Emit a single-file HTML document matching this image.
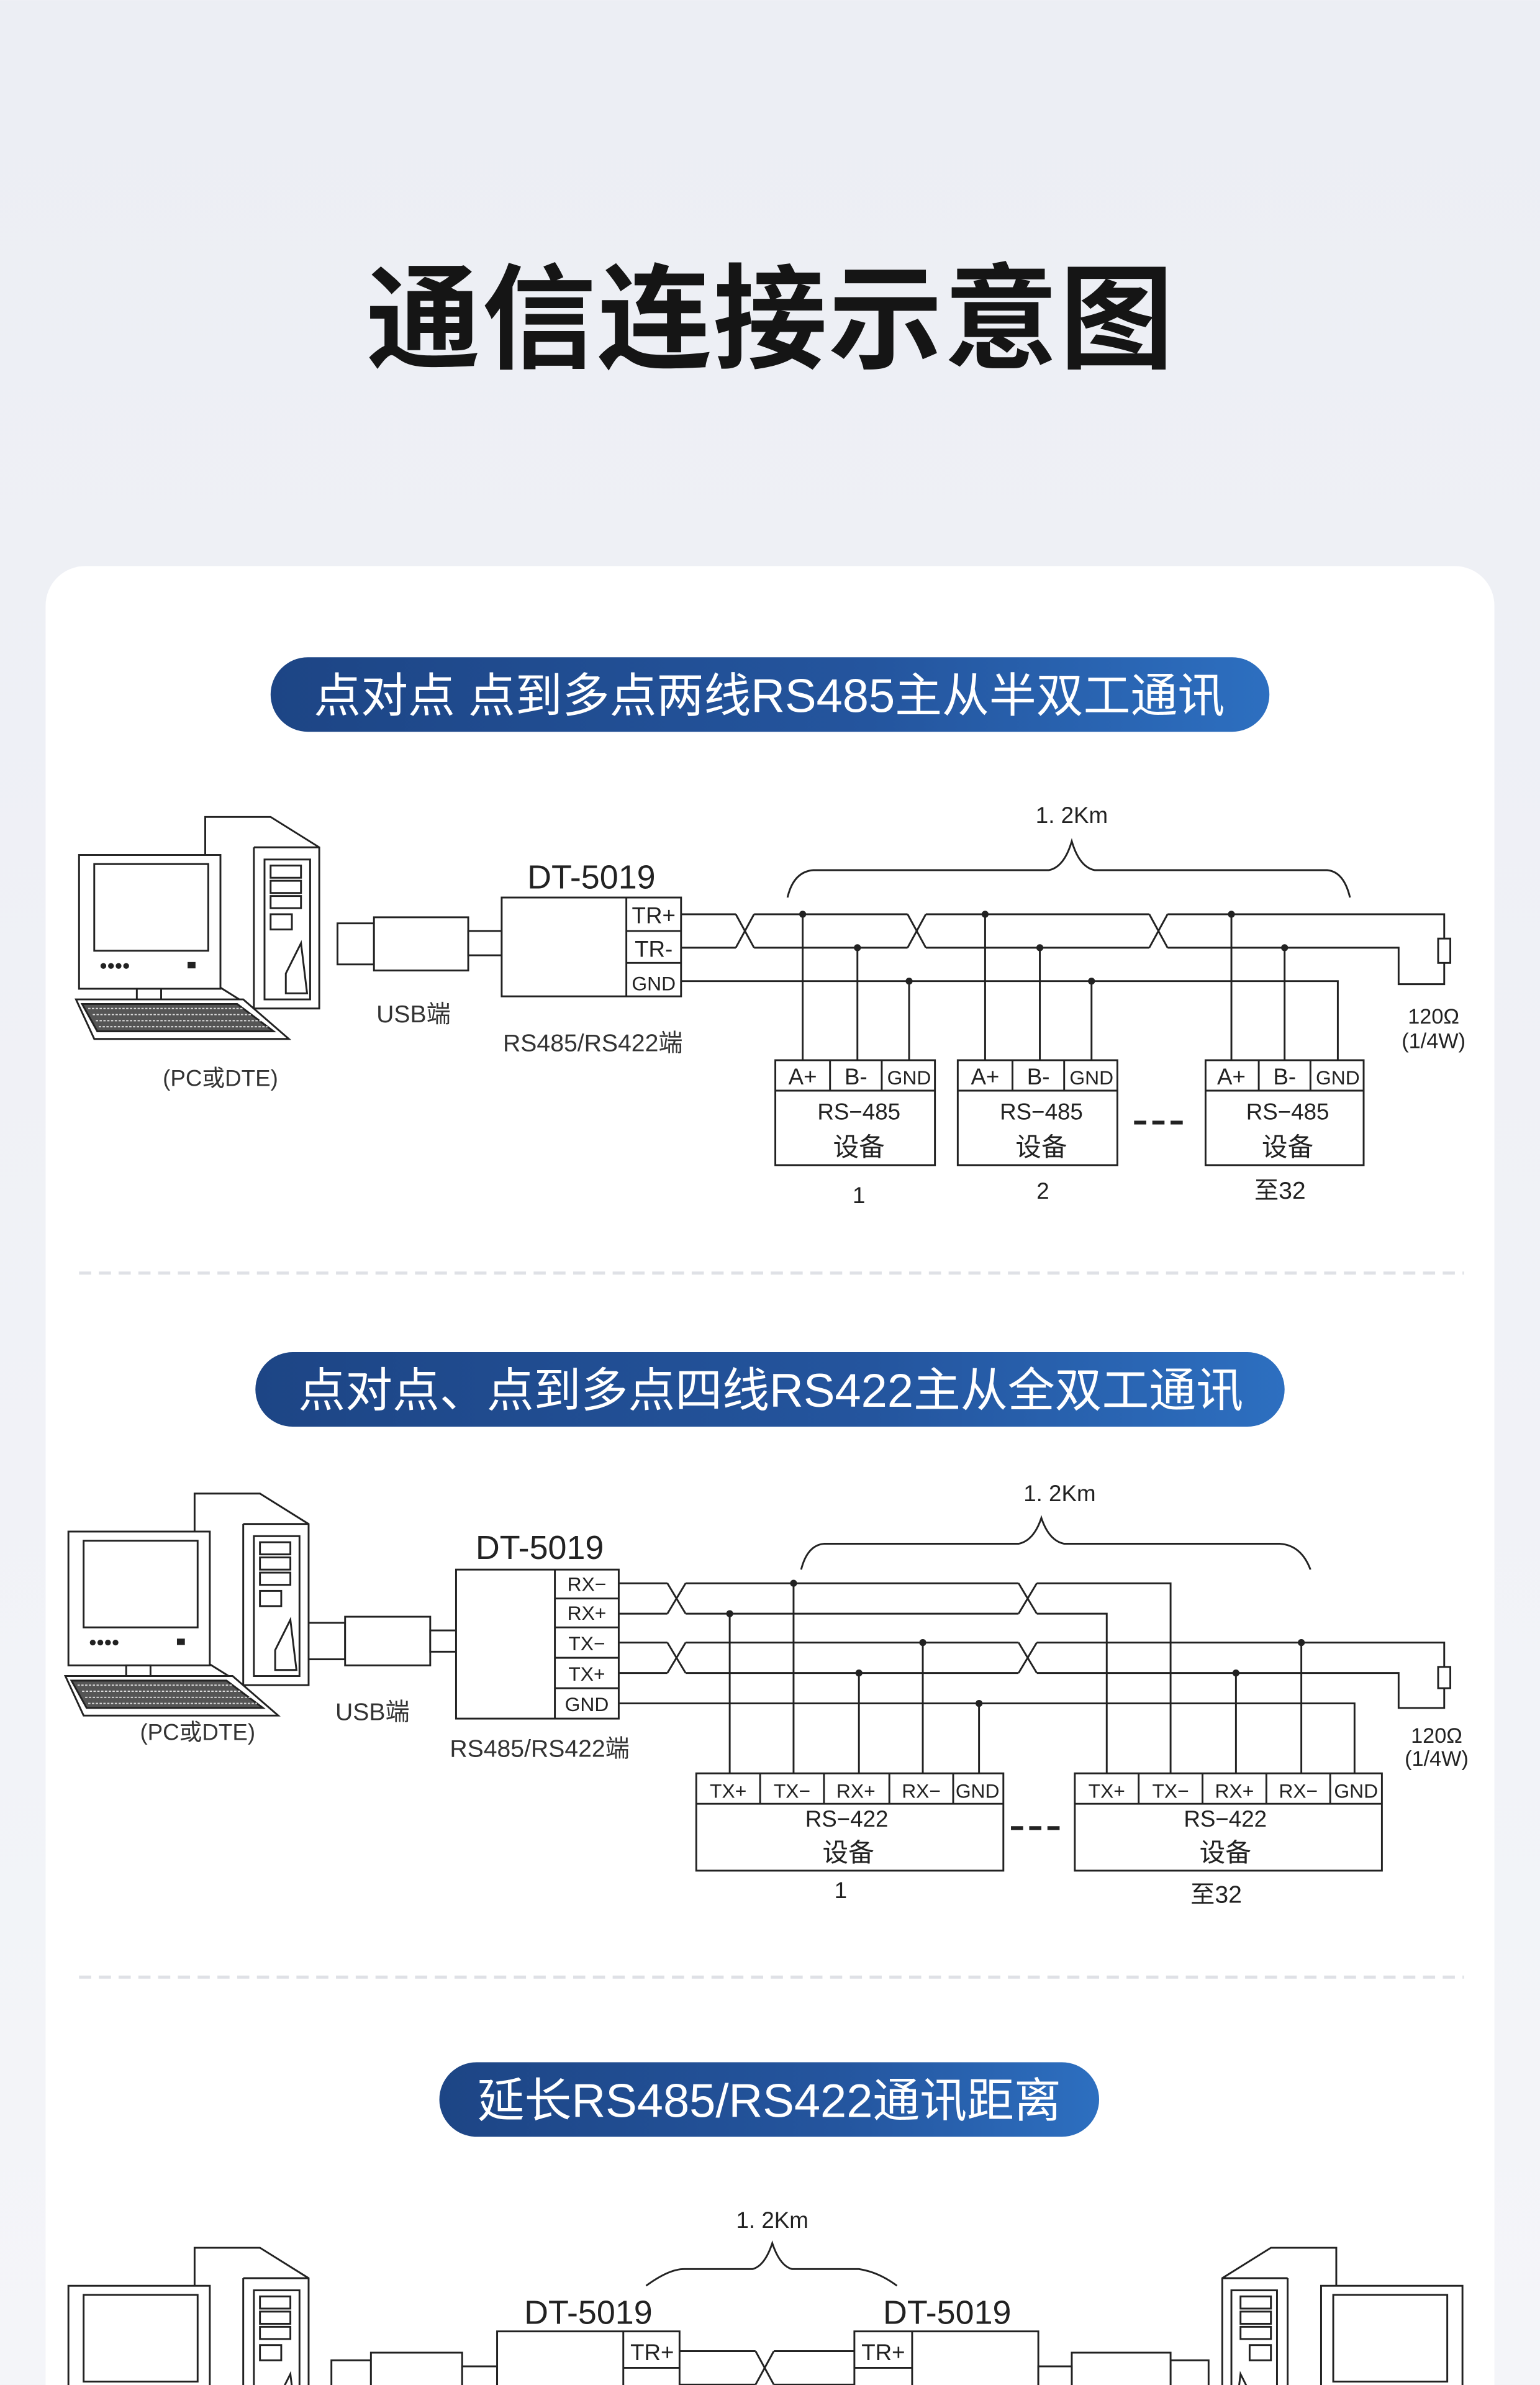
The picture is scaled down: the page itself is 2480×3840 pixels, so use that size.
<!DOCTYPE html>
<html><head><meta charset="utf-8"><style>
html,body{margin:0;padding:0;background:#f1f2f7;}
svg{display:block;}
text{font-family:"Liberation Sans","Noto Sans CJK SC",sans-serif;}
</style></head><body>
<svg width="2480" height="3840" viewBox="0 0 1013 1568" xmlns="http://www.w3.org/2000/svg">
<defs>
<linearGradient id="bg" x1="0" y1="0" x2="0" y2="1"><stop offset="0" stop-color="#eceef4"/><stop offset="1" stop-color="#f4f5f9"/></linearGradient>
<linearGradient id="pill" x1="0" y1="0" x2="1" y2="0"><stop offset="0" stop-color="#1d4585"/><stop offset="0.6" stop-color="#24559e"/><stop offset="1" stop-color="#2d6fc0"/></linearGradient>
<g id="pc" fill="#fff" stroke="#222" stroke-width="1.2">
<polygon points="87,2 130,2 162,22 162,128 119,128 87,108"/>
<line x1="119" y1="22" x2="119" y2="128"/><line x1="119" y1="22" x2="162" y2="22"/>
<rect x="126" y="30" width="30" height="92"/>
<rect x="130" y="34" width="20" height="8"/><rect x="130" y="44" width="20" height="8"/><rect x="130" y="54" width="20" height="8"/><rect x="130" y="66" width="14" height="10"/>
<path d="M150 85 L140 105 L140 118 L154 118 Z"/>
<rect x="4" y="27" width="93" height="88"/>
<rect x="14" y="33" width="75" height="57"/>
<circle cx="20" cy="100" r="1.3" fill="#222"/><circle cx="25" cy="100" r="1.3" fill="#222"/><circle cx="30" cy="100" r="1.3" fill="#222"/><circle cx="35" cy="100" r="1.3" fill="#222"/><rect x="76" y="98" width="4" height="3" fill="#222"/>
<rect x="42" y="115" width="16" height="10"/>
<polygon points="25,125 80,125 90,135 35,135"/>
<polygon points="2,122 112,122 142,148 14,148" fill="#fff"/>
<polygon points="6,125 108,125 132,143 16,143" fill="#555"/>
<path d="M10 128 L112 128 M13 132 L118 132 M15 136 L124 136 M17 140 L128 140" stroke="#ddd" stroke-width="0.8" stroke-dasharray="1.5 1"/>
</g>
</defs>
<rect width="1013" height="1568" fill="url(#bg)"/>
<text x="507" y="236" text-anchor="middle" font-size="75" font-weight="bold" fill="#151515" letter-spacing="1">通信连接示意图</text>
<rect x="30" y="372" width="953" height="1230" rx="26" fill="#fff"/>

<rect x="178" y="432" width="657" height="49" rx="24.5" fill="url(#pill)"/>
<text x="506" y="468" text-anchor="middle" font-size="31" fill="#fff">点对点 点到多点两线RS485主从半双工通讯</text>
<rect x="168" y="889" width="677" height="49" rx="24.5" fill="url(#pill)"/>
<text x="507" y="925" text-anchor="middle" font-size="31" fill="#fff">点对点、点到多点四线RS422主从全双工通讯</text>
<rect x="289" y="1356" width="434" height="49" rx="24.5" fill="url(#pill)"/>
<text x="506" y="1392" text-anchor="middle" font-size="31" fill="#fff">延长RS485/RS422通讯距离</text>

<line x1="52" y1="837" x2="963" y2="837" stroke="#dfe1e6" stroke-width="2" stroke-dasharray="8 5"/>
<line x1="52" y1="1300" x2="963" y2="1300" stroke="#dfe1e6" stroke-width="2" stroke-dasharray="8 5"/>

<g stroke="#222" stroke-width="1.2" fill="none">
<use href="#pc" x="48" y="535"/>
<rect x="222" y="607" width="24" height="27" fill="#fff"/>
<rect x="246" y="603" width="62" height="35" fill="#fff"/>
<rect x="308" y="612" width="22" height="16" fill="#fff"/>
<rect x="330" y="590" width="118" height="65" fill="#fff"/>
<line x1="412" y1="590" x2="412" y2="655"/><line x1="412" y1="612" x2="448" y2="612"/><line x1="412" y1="633" x2="448" y2="633"/>
<path d="M448 601 H950 V617 M950 633 V647 H920 V623 H448 M448 645 H880 V697"/>
<rect x="946" y="617" width="8" height="16" fill="#fff"/>
<path d="M528 601 V697 M564 623 V697 M598 645 V697 M648 601 V697 M684 623 V697 M718 645 V697 M810 601 V697 M845 623 V697"/>
<path d="M518 590 Q522 573 535 572 H690 Q700 570 705 553 Q710 570 720 572 H873 Q884 573 888 590"/>
<rect x="510" y="697" width="105" height="69" fill="#fff"/><line x1="510" y1="717" x2="615" y2="717"/><line x1="546" y1="697" x2="546" y2="717"/><line x1="580" y1="697" x2="580" y2="717"/>
<rect x="630" y="697" width="105" height="69" fill="#fff"/><line x1="630" y1="717" x2="735" y2="717"/><line x1="666" y1="697" x2="666" y2="717"/><line x1="700" y1="697" x2="700" y2="717"/>
<rect x="793" y="697" width="104" height="69" fill="#fff"/><line x1="793" y1="717" x2="897" y2="717"/><line x1="828" y1="697" x2="828" y2="717"/><line x1="862" y1="697" x2="862" y2="717"/>
<path d="M746 738 H782" stroke-width="2.5" stroke-dasharray="8 4"/>

<use href="#pc" x="41" y="980"/>
<rect x="203" y="1067" width="24" height="24" fill="#fff"/>
<rect x="227" y="1063" width="56" height="32" fill="#fff"/>
<rect x="283" y="1072" width="17" height="14" fill="#fff"/>
<rect x="300" y="1032" width="107" height="98" fill="#fff"/>
<line x1="365" y1="1032" x2="365" y2="1130"/>
<path d="M365 1051 H407 M365 1070 H407 M365 1090 H407 M365 1110 H407"/>
<path d="M407 1041 H770 V1166 M407 1061 H728 V1166 M407 1080 H950 V1096 M950 1110 V1123 H920 V1100 H407 M407 1120 H891 V1166"/>
<rect x="946" y="1096" width="8" height="14" fill="#fff"/>
<path d="M480 1061 V1166 M522 1041 V1166 M565 1100 V1166 M607 1080 V1166 M644 1120 V1166 M813 1100 V1166 M856 1080 V1166"/>
<path d="M527 1032 Q531 1016 542 1015 H670 Q680 1013 685 998 Q690 1013 700 1015 H842 Q856 1016 862 1032"/>
<rect x="458" y="1166" width="202" height="64" fill="#fff"/><line x1="458" y1="1186" x2="660" y2="1186"/>
<path d="M500 1166 V1186 M542 1166 V1186 M585 1166 V1186 M627 1166 V1186"/>
<rect x="707" y="1166" width="202" height="64" fill="#fff"/><line x1="707" y1="1186" x2="909" y2="1186"/>
<path d="M749 1166 V1186 M791 1166 V1186 M833 1166 V1186 M875 1166 V1186"/>
<path d="M665 1202 H700" stroke-width="2.5" stroke-dasharray="8 4"/>

<use href="#pc" x="41" y="1476"/>
<g transform="translate(1013,0) scale(-1,1)"><use href="#pc" x="47" y="1476"/></g>
<rect x="218" y="1552" width="26" height="24" fill="#fff"/>
<rect x="244" y="1547" width="60" height="30" fill="#fff"/>
<rect x="304" y="1556" width="23" height="14" fill="#fff"/>
<rect x="327" y="1533" width="120" height="50" fill="#fff"/>
<line x1="410" y1="1533" x2="410" y2="1583"/><line x1="410" y1="1557" x2="447" y2="1557"/>
<rect x="562" y="1533" width="121" height="50" fill="#fff"/>
<line x1="600" y1="1533" x2="600" y2="1583"/><line x1="562" y1="1557" x2="600" y2="1557"/>
<rect x="770" y="1552" width="25" height="24" fill="#fff"/>
<rect x="705" y="1547" width="65" height="30" fill="#fff"/>
<rect x="683" y="1556" width="22" height="14" fill="#fff"/>
<path d="M447 1546 H562 M447 1568 H562"/>
<path d="M425 1503 Q440 1492 450 1492 H495 Q503 1490 508 1475 Q513 1490 521 1492 H565 Q578 1494 590 1503"/>
</g>

<g stroke="#222" stroke-width="1.2" fill="#fff">
<g><rect x="484" y="598" width="12" height="28" stroke="none"/><path d="M484 601 L496 623 M484 623 L496 601" fill="none"/></g>
<g><rect x="597" y="598" width="12" height="28" stroke="none"/><path d="M597 601 L609 623 M597 623 L609 601" fill="none"/></g>
<g><rect x="756" y="598" width="12" height="28" stroke="none"/><path d="M756 601 L768 623 M756 623 L768 601" fill="none"/></g>
<g><rect x="439" y="1038" width="12" height="26" stroke="none"/><path d="M439 1041 L451 1061 M439 1061 L451 1041" fill="none"/></g>
<g><rect x="670" y="1038" width="12" height="26" stroke="none"/><path d="M670 1041 L682 1061 M670 1061 L682 1041" fill="none"/></g>
<g><rect x="439" y="1077" width="12" height="26" stroke="none"/><path d="M439 1080 L451 1100 M439 1100 L451 1080" fill="none"/></g>
<g><rect x="670" y="1077" width="12" height="26" stroke="none"/><path d="M670 1080 L682 1100 M670 1100 L682 1080" fill="none"/></g>
<g><rect x="497" y="1543" width="12" height="28" stroke="none"/><path d="M497 1546 L509 1568 M497 1568 L509 1546" fill="none"/></g>
</g>

<g fill="#222">
<circle cx="528" cy="601" r="2.3"/><circle cx="564" cy="623" r="2.3"/><circle cx="598" cy="645" r="2.3"/>
<circle cx="648" cy="601" r="2.3"/><circle cx="684" cy="623" r="2.3"/><circle cx="718" cy="645" r="2.3"/>
<circle cx="810" cy="601" r="2.3"/><circle cx="845" cy="623" r="2.3"/>
<circle cx="480" cy="1061" r="2.3"/><circle cx="522" cy="1041" r="2.3"/><circle cx="565" cy="1100" r="2.3"/><circle cx="607" cy="1080" r="2.3"/><circle cx="644" cy="1120" r="2.3"/>
<circle cx="813" cy="1100" r="2.3"/><circle cx="856" cy="1080" r="2.3"/>
</g>

<g fill="#222" font-size="15">
<text x="389" y="584" text-anchor="middle" font-size="22">DT-5019</text>
<text x="430" y="607" text-anchor="middle">TR+</text>
<text x="430" y="629" text-anchor="middle">TR-</text>
<text x="430" y="651" text-anchor="middle" font-size="13">GND</text>
<text x="272" y="672" text-anchor="middle" font-size="16" fill="#333">USB端</text>
<text x="390" y="691" text-anchor="middle" font-size="16" fill="#333">RS485/RS422端</text>
<text x="145" y="714" text-anchor="middle" font-size="15" fill="#333">(PC或DTE)</text>
<text x="705" y="541" text-anchor="middle" font-size="15">1. 2Km</text>
<text x="943" y="673" text-anchor="middle" font-size="14">120Ω</text>
<text x="943" y="689" text-anchor="middle" font-size="14">(1/4W)</text>
<text x="528" y="713" text-anchor="middle">A+</text><text x="563" y="713" text-anchor="middle">B-</text><text x="598" y="713" text-anchor="middle" font-size="13">GND</text>
<text x="648" y="713" text-anchor="middle">A+</text><text x="683" y="713" text-anchor="middle">B-</text><text x="718" y="713" text-anchor="middle" font-size="13">GND</text>
<text x="810" y="713" text-anchor="middle">A+</text><text x="845" y="713" text-anchor="middle">B-</text><text x="880" y="713" text-anchor="middle" font-size="13">GND</text>
<text x="565" y="736" text-anchor="middle">RS−485</text><text x="565" y="760" text-anchor="middle" font-size="17">设备</text>
<text x="685" y="736" text-anchor="middle">RS−485</text><text x="685" y="760" text-anchor="middle" font-size="17">设备</text>
<text x="847" y="736" text-anchor="middle">RS−485</text><text x="847" y="760" text-anchor="middle" font-size="17">设备</text>
<text x="565" y="791" text-anchor="middle">1</text><text x="686" y="788" text-anchor="middle">2</text><text x="842" y="788" text-anchor="middle" font-size="16">至32</text>

<text x="355" y="1025" text-anchor="middle" font-size="22">DT-5019</text>
<g font-size="13">
<text x="386" y="1046" text-anchor="middle">RX−</text><text x="386" y="1065" text-anchor="middle">RX+</text>
<text x="386" y="1085" text-anchor="middle">TX−</text><text x="386" y="1105" text-anchor="middle">TX+</text>
<text x="386" y="1125" text-anchor="middle">GND</text>
<text x="479" y="1182" text-anchor="middle">TX+</text><text x="521" y="1182" text-anchor="middle">TX−</text><text x="563" y="1182" text-anchor="middle">RX+</text><text x="606" y="1182" text-anchor="middle">RX−</text><text x="643" y="1182" text-anchor="middle">GND</text>
<text x="728" y="1182" text-anchor="middle">TX+</text><text x="770" y="1182" text-anchor="middle">TX−</text><text x="812" y="1182" text-anchor="middle">RX+</text><text x="854" y="1182" text-anchor="middle">RX−</text><text x="892" y="1182" text-anchor="middle">GND</text>
</g>
<text x="245" y="1131" text-anchor="middle" font-size="16" fill="#333">USB端</text>
<text x="355" y="1155" text-anchor="middle" font-size="16" fill="#333">RS485/RS422端</text>
<text x="130" y="1144" text-anchor="middle" font-size="15" fill="#333">(PC或DTE)</text>
<text x="697" y="987" text-anchor="middle" font-size="15">1. 2Km</text>
<text x="945" y="1146" text-anchor="middle" font-size="14">120Ω</text>
<text x="945" y="1161" text-anchor="middle" font-size="14">(1/4W)</text>
<text x="557" y="1201" text-anchor="middle">RS−422</text><text x="558" y="1224" text-anchor="middle" font-size="17">设备</text>
<text x="806" y="1201" text-anchor="middle">RS−422</text><text x="806" y="1224" text-anchor="middle" font-size="17">设备</text>
<text x="553" y="1248" text-anchor="middle">1</text><text x="800" y="1251" text-anchor="middle" font-size="16">至32</text>

<text x="508" y="1465" text-anchor="middle" font-size="15">1. 2Km</text>
<text x="387" y="1528" text-anchor="middle" font-size="22">DT-5019</text>
<text x="623" y="1528" text-anchor="middle" font-size="22">DT-5019</text>
<text x="429" y="1552" text-anchor="middle">TR+</text>
<text x="581" y="1552" text-anchor="middle">TR+</text>
</g>
</svg>
</body></html>
